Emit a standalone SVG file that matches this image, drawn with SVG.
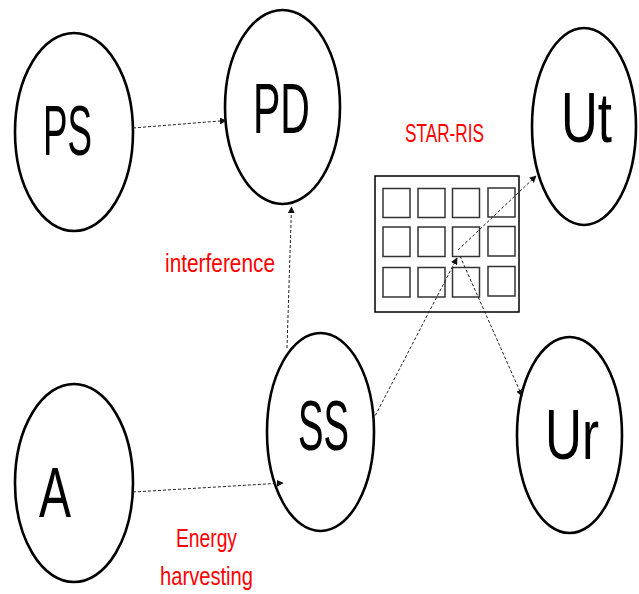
<svg xmlns="http://www.w3.org/2000/svg" width="639" height="594" viewBox="0 0 639 594">
  <defs>
    <marker id="tip" viewBox="0 0 10 10" refX="9" refY="5" markerWidth="7" markerHeight="7" markerUnits="userSpaceOnUse" orient="auto">
      <path d="M0,0 L10,5 L0,10 z" fill="#111"/>
    </marker>
    <style>
      .node { fill: #fff; stroke: #000; stroke-width: 2.6; }
      .big { font-family: "Liberation Sans", Arial, sans-serif; font-size: 70px; fill: #000; }
      .lbl { font-family: "Liberation Sans", Arial, sans-serif; font-size: 25px; fill: #ff0000; }
      .link { fill: none; stroke: #222; stroke-width: 1; stroke-dasharray: 3 2; marker-end: url(#tip); }
      .cell { fill: #fff; stroke: #333; stroke-width: 1.5; }
    </style>
  </defs>

  <rect width="639" height="594" fill="#fff"/>

  <!-- nodes -->
  <g id="PS">
    <ellipse class="node" cx="74" cy="132" rx="59" ry="99"/>
    <text class="big" x="43" y="155" textLength="49" lengthAdjust="spacingAndGlyphs">PS</text>
  </g>
  <g id="PD">
    <ellipse class="node" cx="282.5" cy="107" rx="57.5" ry="97"/>
    <text class="big" x="253" y="133" textLength="57" lengthAdjust="spacingAndGlyphs">PD</text>
  </g>
  <g id="Ut">
    <ellipse class="node" cx="584" cy="126.5" rx="52" ry="98.5"/>
    <text class="big" x="561" y="142" textLength="51" lengthAdjust="spacingAndGlyphs">Ut</text>
  </g>
  <g id="SS">
    <ellipse class="node" cx="320.5" cy="432" rx="53.5" ry="99"/>
    <text class="big" x="298" y="450" textLength="51" lengthAdjust="spacingAndGlyphs">SS</text>
  </g>
  <g id="A">
    <ellipse class="node" cx="74" cy="483" rx="59" ry="99"/>
    <text class="big" x="39" y="517" textLength="32" lengthAdjust="spacingAndGlyphs">A</text>
  </g>
  <g id="Ur">
    <ellipse class="node" cx="569.5" cy="435" rx="52.5" ry="98"/>
    <text class="big" x="545" y="459" textLength="54" lengthAdjust="spacingAndGlyphs">Ur</text>
  </g>

  <!-- STAR-RIS panel -->
  <g id="STAR-RIS">
    <rect x="375" y="176" width="144" height="136" fill="#fff" stroke="#000" stroke-width="1.5"/>
    <g>
      <rect class="cell" x="383" y="188.5" width="27" height="29"/>
      <rect class="cell" x="418" y="188.5" width="27" height="29"/>
      <rect class="cell" x="452.5" y="188.5" width="27" height="29"/>
      <rect class="cell" x="488" y="188" width="27" height="29"/>
      <rect class="cell" x="383" y="227" width="27" height="29.5"/>
      <rect class="cell" x="418" y="227" width="27" height="29.5"/>
      <rect class="cell" x="452.5" y="227" width="27" height="29.5"/>
      <rect class="cell" x="488" y="226.5" width="27" height="29.5"/>
      <rect class="cell" x="383" y="267.5" width="27" height="29.5"/>
      <rect class="cell" x="418" y="267.5" width="27" height="29.5"/>
      <rect class="cell" x="452.5" y="267.5" width="27" height="29.5"/>
      <rect class="cell" x="488" y="266.5" width="27" height="29.5"/>
    </g>
    <text class="lbl" x="405" y="142" textLength="79" lengthAdjust="spacingAndGlyphs">STAR-RIS</text>
  </g>

  <!-- connectors -->
  <g id="links">
    <line class="link" x1="133" y1="128" x2="226" y2="120.5"/>
    <line class="link" x1="133" y1="492" x2="283" y2="483"/>
    <line class="link" x1="287" y1="348" x2="291.5" y2="207"/>
    <line class="link" x1="373" y1="420" x2="457" y2="258"/>
    <path class="link" d="M458,250 L536,176"/>
    <path class="link" d="M460,256 L522,396"/>
  </g>

  <!-- edge labels -->
  <g id="labels">
    <text class="lbl" x="165" y="272" textLength="110" lengthAdjust="spacingAndGlyphs">interference</text>
    <text class="lbl" x="176" y="547" textLength="61" lengthAdjust="spacingAndGlyphs">Energy</text>
    <text class="lbl" x="160" y="585" textLength="93" lengthAdjust="spacingAndGlyphs">harvesting</text>
  </g>
</svg>
